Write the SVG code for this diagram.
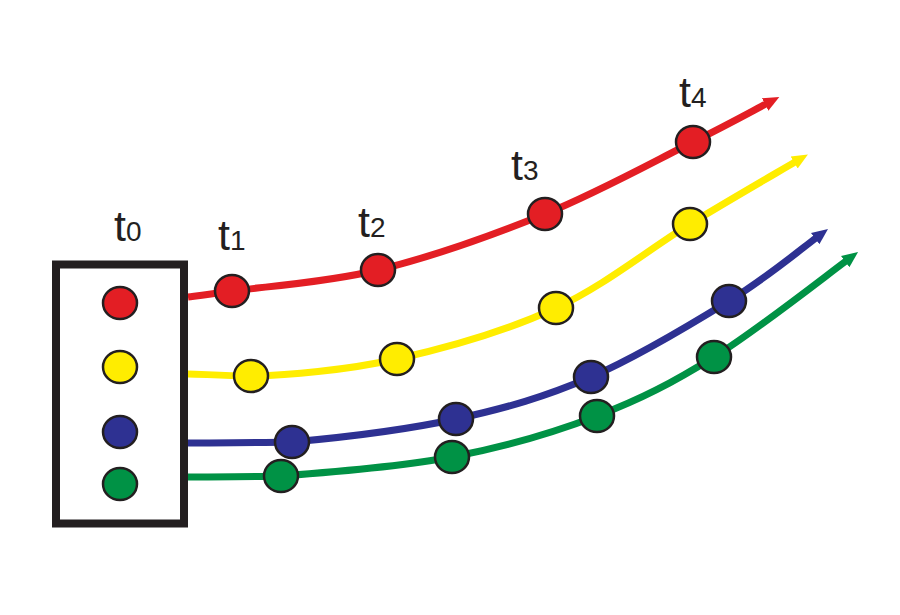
<svg xmlns="http://www.w3.org/2000/svg" width="900" height="615" viewBox="0 0 900 615">
<style>
.ln{fill:none;stroke-width:7;stroke-linecap:butt}
.dot{stroke:#231f20;stroke-width:2.5}
.r{fill:#e31e24}.y{fill:#ffed00}.b{fill:#2e3192}.g{fill:#009245}
.lbl{font-family:"Liberation Sans",Arial,sans-serif;fill:#231f20}
.tt{font-size:43px}.sub{font-size:28px}
</style>
<defs>
<marker id="mr" viewBox="0 -8 16 16" refX="1" refY="0" markerWidth="16" markerHeight="16" markerUnits="userSpaceOnUse" orient="auto"><path d="M0,-7 L16,0 L0,7 Z" fill="#e31e24"/></marker>
<marker id="my" viewBox="0 -8 16 16" refX="1" refY="0" markerWidth="16" markerHeight="16" markerUnits="userSpaceOnUse" orient="auto"><path d="M0,-7 L16,0 L0,7 Z" fill="#ffed00"/></marker>
<marker id="mb" viewBox="0 -8 16 16" refX="1" refY="0" markerWidth="16" markerHeight="16" markerUnits="userSpaceOnUse" orient="auto"><path d="M0,-7 L16,0 L0,7 Z" fill="#2e3192"/></marker>
<marker id="mg" viewBox="0 -8 16 16" refX="1" refY="0" markerWidth="16" markerHeight="16" markerUnits="userSpaceOnUse" orient="auto"><path d="M0,-7 L16,0 L0,7 Z" fill="#009245"/></marker>
</defs>
<rect width="900" height="615" fill="#ffffff"/>
<g id="connectors">
<path class="ln" stroke="#e31e24" marker-end="url(#mr)" d="M188,297 C195.3,296 200.3,295.5 232,291 C263.7,286.5 325.8,282.8 378,270 C430.2,257.2 492.5,235.3 545,214 C597.5,192.7 655.8,160.5 693,142 C730.2,123.5 753.5,110.5 766,104"/>
<path class="ln" stroke="#ffed00" marker-end="url(#my)" d="M188,374 C198.5,374 220,375.5 251,376 C285.8,375.5 346.2,370.3 397,359 C447.8,347.7 507.2,330.5 556,308 C604.8,285.5 649.8,248.5 690,224 C730.2,199.5 777.2,172.5 795,162"/>
<path class="ln" stroke="#2e3192" marker-end="url(#mb)" d="M188,443 C205.3,442.8 250,443 292,442 C336.7,438 406.2,429.8 456,419 C505.8,408.2 545.5,396.7 591,377 C636.5,357.3 691.2,324.3 729,301 C766.8,277.7 801.2,249 816,238"/>
<path class="ln" stroke="#009245" marker-end="url(#mg)" d="M188,477 C203.5,476.8 250,477 281,476 C325,472.7 399.3,467 452,457 C504.7,447 553.3,432.7 597,416 C640.7,399.3 672.2,383 714,357 C755.8,331 823.7,277.5 846,261"/>
</g>
<g id="box-t0">
<rect x="56" y="264.5" width="128" height="259" fill="none" stroke="#231f20" stroke-width="8"/>
<ellipse class="dot r" cx="120" cy="303" rx="17" ry="16"/>
<ellipse class="dot y" cx="120" cy="367" rx="17" ry="16"/>
<ellipse class="dot b" cx="120" cy="432" rx="17" ry="16"/>
<ellipse class="dot g" cx="120" cy="484" rx="17" ry="16"/>
</g>
<g id="dots-t1">
<ellipse class="dot r" cx="232" cy="291" rx="17" ry="16"/>
<ellipse class="dot y" cx="251" cy="376" rx="17" ry="16"/>
<ellipse class="dot b" cx="292" cy="442" rx="17" ry="16"/>
<ellipse class="dot g" cx="281" cy="476" rx="17" ry="16"/>
</g>
<g id="dots-t2">
<ellipse class="dot r" cx="378" cy="270" rx="17" ry="16"/>
<ellipse class="dot y" cx="397" cy="359" rx="17" ry="16"/>
<ellipse class="dot b" cx="456" cy="419" rx="17" ry="16"/>
<ellipse class="dot g" cx="452" cy="457" rx="17" ry="16"/>
</g>
<g id="dots-t3">
<ellipse class="dot r" cx="545" cy="214" rx="17" ry="16"/>
<ellipse class="dot y" cx="556" cy="308" rx="17" ry="16"/>
<ellipse class="dot b" cx="591" cy="377" rx="17" ry="16"/>
<ellipse class="dot g" cx="597" cy="416" rx="17" ry="16"/>
</g>
<g id="dots-t4">
<ellipse class="dot r" cx="693" cy="142" rx="17" ry="16"/>
<ellipse class="dot y" cx="690" cy="224" rx="17" ry="16"/>
<ellipse class="dot b" cx="729" cy="301" rx="17" ry="16"/>
<ellipse class="dot g" cx="714" cy="357" rx="17" ry="16"/>
</g>
<g id="labels" class="lbl">
<text x="114" y="241"><tspan class="tt">t</tspan><tspan class="sub">0</tspan></text>
<text x="218" y="250"><tspan class="tt">t</tspan><tspan class="sub">1</tspan></text>
<text x="358" y="237"><tspan class="tt">t</tspan><tspan class="sub">2</tspan></text>
<text x="511" y="180"><tspan class="tt">t</tspan><tspan class="sub">3</tspan></text>
<text x="679" y="107"><tspan class="tt">t</tspan><tspan class="sub">4</tspan></text>
</g>
</svg>
